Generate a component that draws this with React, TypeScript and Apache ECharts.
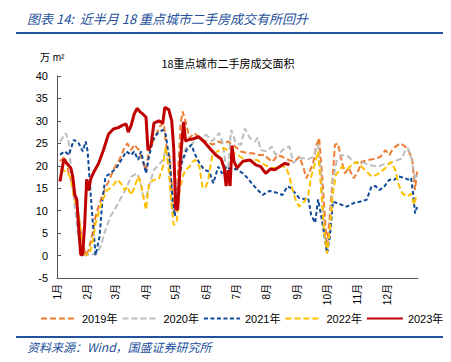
import React, { useEffect, useRef } from 'react';
import * as echarts from 'echarts';

const monthLabels = ['1月', '2月', '3月', '4月', '5月', '6月', '7月', '8月', '9月', '10月', '11月', '12月'];
const monthStarts = [0, 31, 59, 90, 120, 151, 181, 212, 243, 273, 304, 334];
const yTicks = { min: -5, max: 40, interval: 5 };

const days2019 = [3,8,12,16,19,22,26,29,32,36,39,43,48,53,58,63,68,71,75,78,83,87,90,93,98,104,108,110,114,117,119,122,125,127,130,134,139,144,151,157,163,168,173,180,186,193,198,204,210,214,218,223,228,234,240,245,249,252,255,259,262,265,268,271,273,276,279,281,284,288,291,295,300,305,308,315,320,327,332,336,340,347,352,355,359,362,364];
const vals2019 = [21,22,18.3,15.4,12.4,8.7,2.7,0.1,1.2,5,8.7,11.7,14.6,16.9,19.5,21.3,23.9,25,23.5,24.7,23.5,20.6,19.1,23.5,25.8,28.8,29.5,25,22,13.1,9.4,16.9,29.5,32.1,29.9,26.2,27.3,26.2,25.4,24.7,25.4,25,25.4,24.3,23.2,22.8,22.8,22.4,22.4,21.5,20.9,22.4,22,21.3,20.9,22,19.8,17.2,18.5,20.6,24.3,26.2,18,7.9,2,9.4,18.3,24.7,25,20.9,18.3,19.5,17.2,19.1,20.9,21.3,21.5,22,23.5,22.4,23.9,25,24.3,23.5,21.7,14.6,18.7];

const days2020 = [3,9,12,15,18,21,24,29,34,39,44,49,54,60,65,70,75,81,84,87,90,93,98,102,107,110,113,116,118,121,125,130,135,141,146,151,157,164,168,172,176,181,186,190,195,200,203,206,212,217,221,225,230,235,239,244,249,254,259,264,267,270,273,276,279,283,289,295,301,308,315,320,325,330,335,340,345,349,352,355,358,360,362,364];
const vals2020 = [25.4,27.3,25,16.9,10.9,5,0.5,0,0.5,0.1,2,5.7,8.7,10.9,13,15,17.6,18.3,16.9,13.1,12.8,15.4,19.1,20,21.3,23.7,20,11,9.4,13.9,20.6,23.9,24.5,26,26.3,26.9,25.5,27.3,24.7,16.9,28,25,24.7,28.3,26.2,25.4,26.2,23.5,23.2,24.3,22.5,22.8,23.9,24.3,20.6,21.7,21.7,21.5,22,24.7,18,6,0.5,6,16.9,21.3,22.4,22,20.6,20.9,20.2,20,19.8,20.3,20.4,20.9,21.3,21.7,23.5,23.9,22,19.8,16.9,18];

const days2021 = [3,8,12,17,22,26,29,31,33,36,39,43,46,49,54,60,65,70,75,78,82,85,90,93,97,102,107,110,114,117,119,122,126,131,136,139,144,149,154,158,163,167,171,176,181,188,193,198,203,208,215,222,228,233,237,241,245,250,254,257,261,264,267,270,273,276,279,283,288,293,300,306,313,318,322,326,331,336,341,346,351,355,358,360,362,364];
const vals2021 = [22.5,23.2,22.4,25.8,25,23.2,25.4,23.2,16.9,7.9,0.1,4.2,12.4,17.6,18.3,19.5,21.3,23.2,22.4,23.2,21.3,23.2,18.3,22,25.8,27.3,28,26.9,20.6,11.7,8.7,13.9,20.6,23.5,24.7,22.8,20.6,19.1,18.7,16.1,19.8,18.3,19.8,19.1,19.3,18.3,17.2,15.8,14.6,13.5,14.4,14,13.5,15.4,15,13.8,12.8,12.6,12.8,9,7.3,12.5,9,5,0.5,4.5,12,11.7,11.3,10.9,11.7,12,12.4,15.4,15.5,14.6,15.4,16.9,16.9,17.6,17.3,16.9,17.3,13.9,9.4,10.8];

const days2022 = [3,10,14,17,21,24,27,31,34,37,39,43,46,51,56,61,65,68,71,75,78,82,85,88,90,93,98,103,107,110,113,116,118,121,124,127,130,134,137,140,144,147,150,153,157,164,169,175,183,190,196,202,210,216,222,227,232,235,239,242,245,250,254,257,261,264,267,270,273,276,279,282,288,293,298,303,308,313,318,323,327,332,338,342,345,349,354,358,361,363];
const vals2022 = [19.1,18.7,17.2,13.1,10.2,5.7,0.5,0.1,1.2,4.2,7.2,10.2,12.4,14.6,15.4,16.9,16,14.6,15.4,13.5,15,17.6,15.8,12.4,10.2,16.1,16.9,17,19.8,24.3,19,10.9,6.8,7.5,14.6,17.6,19.1,19.8,20.9,21.3,19.8,15.4,15,16.9,22.4,23.5,23.9,23.2,22.4,21.3,21.3,21.3,20.2,19.5,19.5,20,19.5,17.6,13.9,12,10.9,12,13.5,17.6,20.6,23.2,15,5.7,0.5,6,14,18,19.8,19.1,20.2,20.9,19.8,18.7,17.6,18,18.5,19.5,20.9,19,16.1,13.9,13.1,13.8,11.3,13];

const days2023 = [3,7,10,14,16,18,20,22,24,26,28,30,32,34,37,42,47,52,57,62,66,70,72,75,78,81,84,87,90,92,95,98,103,107,109,113,116,118,120,122,125,128,130,133,138,143,148,154,160,166,169,171,173,175,177,179,182,188,195,201,206,211,216,220,225,230,235];
const vals2023 = [16.5,21.5,20.5,19.5,17.5,13.5,12.5,6,0.2,0.2,7,17,14.5,17,18.5,20.5,23.5,27,28.2,28.5,29,29.3,27.5,29,31.5,32.8,32,31.5,30.8,23.5,24.5,29.5,30,29.5,33,32.5,30,24,10.5,10.2,22,29.8,25.5,25.8,26,26.5,25.5,24,22.5,21.5,19.5,15.5,19,15.5,24.5,21,19.5,21,21.3,20.2,19.8,18.3,19.3,19.1,19.8,20.5,20.3];

const seriesNames = ['2019年', '2020年', '2021年', '2022年', '2023年'];

const FONT = '"Liberation Sans", Arial, "Noto Sans CJK SC", sans-serif';
const BLUE = '#24519b';

export default function App() {
  const ref = useRef<HTMLDivElement>(null);
  useEffect(() => {
    const chart = echarts.init(ref.current as HTMLDivElement, null, { renderer: 'svg' });
    const pair = (d: number[], v: number[]) => d.map((x, i) => [x, v[i]]);
    const mk = (name: string, color: string, type: any, width: number, d: number[], v: number[], z: number) => ({
      name,
      type: 'line',
      data: pair(d, v),
      symbol: 'none',
      showSymbol: false,
      z,
      lineStyle: { color, width, type },
      itemStyle: { color },
    });
    chart.setOption({
      animation: false,
      backgroundColor: '#fff',
      textStyle: { fontFamily: FONT },
      grid: { left: 57, right: 33, top: 76, bottom: 84 },
      graphic: [
        { type: 'text', left: 27, top: 12, style: { text: '图表 14:  近半月 18 重点城市二手房成交有所回升', font: 'italic 13px "Noto Sans CJK SC", sans-serif', fill: BLUE } },
        { type: 'line', shape: { x1: 16, y1: 33, x2: 443, y2: 33 }, style: { stroke: BLUE, lineWidth: 2 } },
        { type: 'text', left: 40, top: 52, style: { text: '万 m²', font: '10px ' + FONT, fill: '#000' } },
        { type: 'text', x: 228, y: 63, style: { text: '18重点城市二手房成交面积', font: '11px "Noto Sans CJK SC", sans-serif', fill: '#000', align: 'center', verticalAlign: 'middle' } },
        { type: 'line', shape: { x1: 16, y1: 337, x2: 443, y2: 337 }, style: { stroke: BLUE, lineWidth: 2 } },
        { type: 'text', left: 27, top: 340, style: { text: '资料来源：Wind，国盛证券研究所', font: 'italic 12px "Noto Sans CJK SC", sans-serif', fill: BLUE } },
      ],
      legend: {
        top: 308,
        left: 35,
        itemWidth: 36,
        itemHeight: 12,
        itemGap: 4,
        data: seriesNames,
        itemStyle: { opacity: 0 },
        textStyle: { fontSize: 11, color: '#000', fontFamily: FONT },
      },
      xAxis: {
        type: 'value',
        min: 0,
        max: 365,
        axisLine: { show: true, onZero: false, lineStyle: { color: '#555', width: 1 } },
        axisTick: { show: false },
        splitLine: { show: false },
        axisLabel: {
          customValues: monthStarts,
          formatter: (v: number) => monthLabels[monthStarts.indexOf(v)] ?? '',
          rotate: 90,
          fontSize: 10,
          margin: 6,
          color: '#000',
        },
      },
      yAxis: {
        type: 'value',
        min: yTicks.min,
        max: yTicks.max,
        interval: yTicks.interval,
        axisLine: { show: true, lineStyle: { color: '#555', width: 1 } },
        axisTick: { show: true, inside: true, length: 4, lineStyle: { color: '#555' } },
        splitLine: { show: false },
        axisLabel: { fontSize: 11, color: '#000', margin: 9 },
      },
      series: [
        mk(seriesNames[0], '#ED7D31', [6, 3], 2, days2019, vals2019, 2),
        mk(seriesNames[1], '#BDBDBD', [6, 3], 2, days2020, vals2020, 2),
        mk(seriesNames[2], '#0F4A9A', [4, 2.5], 2, days2021, vals2021, 2),
        mk(seriesNames[3], '#FFC000', [6, 3], 2, days2022, vals2022, 2),
        mk(seriesNames[4], '#C00000', 'solid', 3, days2023, vals2023, 3),
      ],
    });
    return () => chart.dispose();
  }, []);
  return <div ref={ref} style={{ position: 'absolute', left: 0, top: 0, width: 451, height: 362, background: '#fff' }} />;
}
